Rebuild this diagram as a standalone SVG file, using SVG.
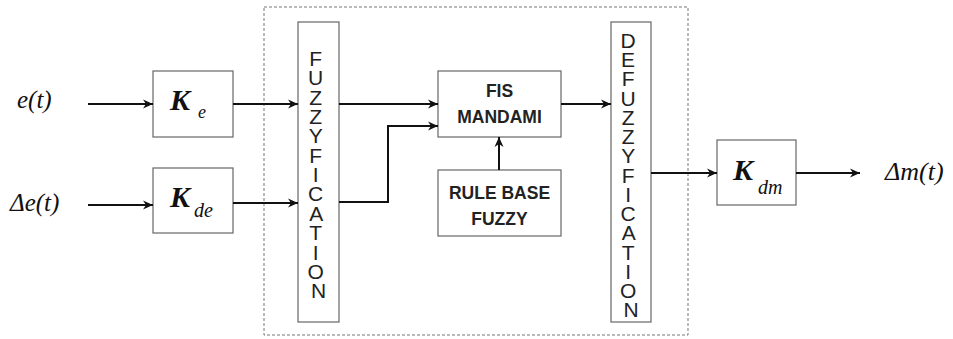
<svg xmlns="http://www.w3.org/2000/svg" width="953" height="339" viewBox="0 0 953 339">
  <style>
    .box { fill: #fff; stroke: #666; stroke-width: 1.2; }
    .wire { fill: none; stroke: #111; stroke-width: 2; }
    .sig { font-family: "Liberation Serif", "Times New Roman", serif; font-style: italic; fill: #111; }
    .gain { font-family: "Liberation Serif", "Times New Roman", serif; font-style: italic; fill: #111; }
    .vert { font-family: "Liberation Sans", Arial, sans-serif; font-size: 21px; fill: #222; text-anchor: middle; }
    .lbl { font-family: "Liberation Sans", Arial, sans-serif; font-size: 17.5px; font-weight: bold; fill: #222; text-anchor: middle; }
  </style>
  <defs>
    <marker id="arrow" markerUnits="userSpaceOnUse" markerWidth="12" markerHeight="12" viewBox="0 0 12 12" refX="11" refY="6" orient="auto">
      <path d="M1,1.5 L11,6 L1,10.5 L4,6 Z" fill="#111"/>
    </marker>
  </defs>

  <rect width="953" height="339" fill="#fff"/>

  <!-- controller boundary -->
  <rect id="controller" x="264" y="7" width="424" height="328" fill="none" stroke="#777" stroke-width="1" stroke-dasharray="3,2"/>

  <!-- signals -->
  <text id="sig-e" class="sig" x="17" y="108" font-size="25">e(t)</text>
  <text id="sig-de" class="sig" x="10" y="211" font-size="25">Δe(t)</text>
  <text id="sig-dm" class="sig" x="885" y="180" font-size="26">Δm(t)</text>

  <g id="gain-ke">
    <rect class="box" x="153" y="71" width="80" height="66"/>
    <text class="gain" x="170" y="110" font-size="30" font-weight="bold">K</text>
    <text class="gain" x="198" y="118" font-size="18">e</text>
  </g>

  <g id="gain-kde">
    <rect class="box" x="153" y="168" width="80" height="65"/>
    <text class="gain" x="170" y="207" font-size="30" font-weight="bold">K</text>
    <text class="gain" x="194" y="217" font-size="20">de</text>
  </g>

  <g id="fuzzyfication">
    <rect class="box" x="298" y="22" width="41" height="300"/>
    <text class="vert">
      <tspan x="318.5" y="66">F</tspan>
      <tspan x="318.5" dy="19.35">U</tspan>
      <tspan x="318.5" dy="19.35">Z</tspan>
      <tspan x="318.5" dy="19.35">Z</tspan>
      <tspan x="318.5" dy="19.35">Y</tspan>
      <tspan x="318.5" dy="19.35">F</tspan>
      <tspan x="318.5" dy="19.35">I</tspan>
      <tspan x="318.5" dy="19.35">C</tspan>
      <tspan x="318.5" dy="19.35">A</tspan>
      <tspan x="318.5" dy="19.35">T</tspan>
      <tspan x="318.5" dy="19.35">I</tspan>
      <tspan x="318.5" dy="19.35">O</tspan>
      <tspan x="318.5" dy="19.35">N</tspan>
    </text>
  </g>

  <g id="fis-mandami">
    <rect class="box" x="438" y="71" width="123" height="66"/>
    <text class="lbl" x="499.5" y="97">FIS</text>
    <text class="lbl" x="499.5" y="123">MANDAMI</text>
  </g>

  <g id="rule-base">
    <rect class="box" x="438" y="170" width="123" height="66"/>
    <text class="lbl" x="499.5" y="199">RULE BASE</text>
    <text class="lbl" x="499.5" y="225">FUZZY</text>
  </g>

  <g id="defuzzyfication">
    <rect class="box" x="611" y="22" width="40" height="300"/>
    <text class="vert">
      <tspan x="631" y="48">D</tspan>
      <tspan x="631" dy="19.23">E</tspan>
      <tspan x="631" dy="19.23">F</tspan>
      <tspan x="631" dy="19.23">U</tspan>
      <tspan x="631" dy="19.23">Z</tspan>
      <tspan x="631" dy="19.23">Z</tspan>
      <tspan x="631" dy="19.23">Y</tspan>
      <tspan x="631" dy="19.23">F</tspan>
      <tspan x="631" dy="19.23">I</tspan>
      <tspan x="631" dy="19.23">C</tspan>
      <tspan x="631" dy="19.23">A</tspan>
      <tspan x="631" dy="19.23">T</tspan>
      <tspan x="631" dy="19.23">I</tspan>
      <tspan x="631" dy="19.23">O</tspan>
      <tspan x="631" dy="19.23">N</tspan>
    </text>
  </g>

  <g id="gain-kdm">
    <rect class="box" x="717" y="140" width="79" height="65"/>
    <text class="gain" x="733" y="180" font-size="30" font-weight="bold">K</text>
    <text class="gain" x="758" y="194" font-size="20">dm</text>
  </g>

  <g id="connectors">
    <path class="wire" d="M88,104 H153" marker-end="url(#arrow)"/>
    <path class="wire" d="M88,205 H153" marker-end="url(#arrow)"/>
    <path class="wire" d="M233,104 H298" marker-end="url(#arrow)"/>
    <path class="wire" d="M233,203 H298" marker-end="url(#arrow)"/>
    <path class="wire" d="M339,104 H438" marker-end="url(#arrow)"/>
    <path class="wire" d="M339,202 H388 V126 H438" marker-end="url(#arrow)"/>
    <path class="wire" d="M499,170 V137" marker-end="url(#arrow)"/>
    <path class="wire" d="M561,104 H611" marker-end="url(#arrow)"/>
    <path class="wire" d="M651,173 H717" marker-end="url(#arrow)"/>
    <path class="wire" d="M796,173 H860" marker-end="url(#arrow)"/>
  </g>
</svg>
